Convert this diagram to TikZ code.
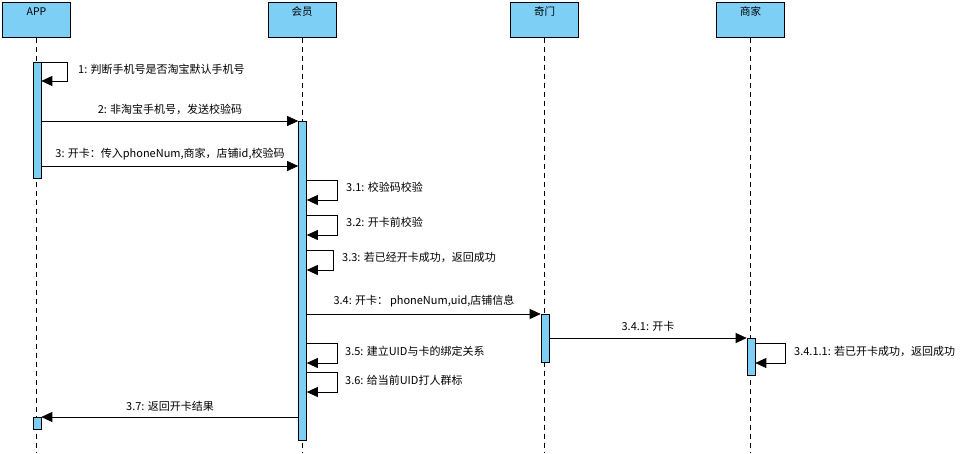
\documentclass[tikz,border=0pt]{standalone}
\usepackage{fontspec}
\setmainfont{Noto Sans CJK SC}
\usetikzlibrary{arrows.meta}
\definecolor{actblue}{RGB}{125,207,245}
\tikzset{
  head/.style={draw=black, fill=actblue, minimum width=68pt, minimum height=35pt, inner sep=0pt, anchor=north, line width=0.6pt},
  headtxt/.style={anchor=center, inner sep=0pt, font=\fontsize{10.5}{12}\selectfont},
  life/.style={draw=black, dash pattern=on 5pt off 4pt, line width=0.6pt},
  act/.style={draw=black, fill=actblue, minimum width=8pt, inner sep=0pt, anchor=north, line width=0.6pt},
  msg/.style={draw=black, line width=0.7pt, -{Triangle[length=11pt, width=10pt]}},
  lbl/.style={inner sep=0pt, font=\fontsize{11}{12}\selectfont},
}
\begin{document}
\begin{tikzpicture}[x=1pt, y=-1pt]
\useasboundingbox (0,0) rectangle (976,453);
% heads
\node[head] (hApp) at (36.5,2) {};
\node[headtxt] at (36.5,11.5) {APP};
\node[head] (hM) at (302,2) {};
\node[headtxt] at (302,11.5) {会员};
\node[head] (hQ) at (544.5,2) {};
\node[headtxt] at (544.5,11.5) {奇门};
\node[head] (hS) at (750.5,2) {};
\node[headtxt] at (750.5,11.5) {商家};
% lifelines
\coordinate (eApp) at (36.5,452);
\coordinate (eM) at (302,452);
\coordinate (eQ) at (544.5,452);
\coordinate (eS) at (750.5,452);
\draw[life] (hApp.south) -- (eApp);
\draw[life] (hM.south) -- (eM);
\draw[life] (hQ.south) -- (eQ);
\draw[life] (hS.south) -- (eS);
% activations
\node[act, minimum height=116pt] (aApp1) at (37,62) {};
\node[act, minimum height=12pt] (aApp2) at (37,417) {};
\node[act, minimum height=319pt] (aM) at (302.5,121) {};
\node[act, minimum height=48pt] (aQ) at (545,314) {};
\node[act, minimum height=37pt] (aS) at (751,338) {};
% 1 self
\draw[msg] (aApp1.east |- 0,62) -- (67,62) -- (67,81) -- (aApp1.east |- 0,81);
\node[lbl, anchor=west] at (78,69) {1: 判断手机号是否淘宝默认手机号};
% 2
\draw[msg] (aApp1.east |- 0,121) -- (aM.west |- 0,121);
\node[lbl, anchor=center] at (170,109) {2: 非淘宝手机号，发送校验码};
% 3
\draw[msg] (aApp1.east |- 0,166) -- (aM.west |- 0,166);
\node[lbl, anchor=center] at (170,154) {3: 开卡：传入phoneNum,商家，店铺id,校验码};
% 3.1
\draw[msg] (aM.east |- 0,180) -- (337,180) -- (337,200) -- (aM.east |- 0,200);
\node[lbl, anchor=west] at (346,187) {3.1: 校验码校验};
% 3.2
\draw[msg] (aM.east |- 0,215) -- (337,215) -- (337,235) -- (aM.east |- 0,235);
\node[lbl, anchor=west] at (346,222) {3.2: 开卡前校验};
% 3.3
\draw[msg] (aM.east |- 0,250) -- (333,250) -- (333,270) -- (aM.east |- 0,270);
\node[lbl, anchor=west] at (342,257) {3.3: 若已经开卡成功，返回成功};
% 3.4
\draw[msg] (aM.east |- 0,314) -- (aQ.west |- 0,314);
\node[lbl, anchor=center] at (424,301) {3.4: 开卡：\,phoneNum,uid,店铺信息};
% 3.4.1
\draw[msg] (aQ.east |- 0,338) -- (aS.west |- 0,338);
\node[lbl, anchor=center] at (648,326) {3.4.1: 开卡};
% 3.4.1.1
\draw[msg] (aS.east |- 0,343) -- (785,343) -- (785,363) -- (aS.east |- 0,363);
\node[lbl, anchor=west] at (794,351) {3.4.1.1: 若已开卡成功，返回成功};
% 3.5
\draw[msg] (aM.east |- 0,343) -- (337,343) -- (337,363) -- (aM.east |- 0,363);
\node[lbl, anchor=west] at (345,351) {3.5: 建立UID与卡的绑定关系};
% 3.6
\draw[msg] (aM.east |- 0,372) -- (337,372) -- (337,392) -- (aM.east |- 0,392);
\node[lbl, anchor=west] at (345,380) {3.6: 给当前UID打人群标};
% 3.7
\draw[msg] (aM.west |- 0,417) -- (aApp2.east |- 0,417);
\node[lbl, anchor=center] at (170,406) {3.7: 返回开卡结果};
\end{tikzpicture}
\end{document}
